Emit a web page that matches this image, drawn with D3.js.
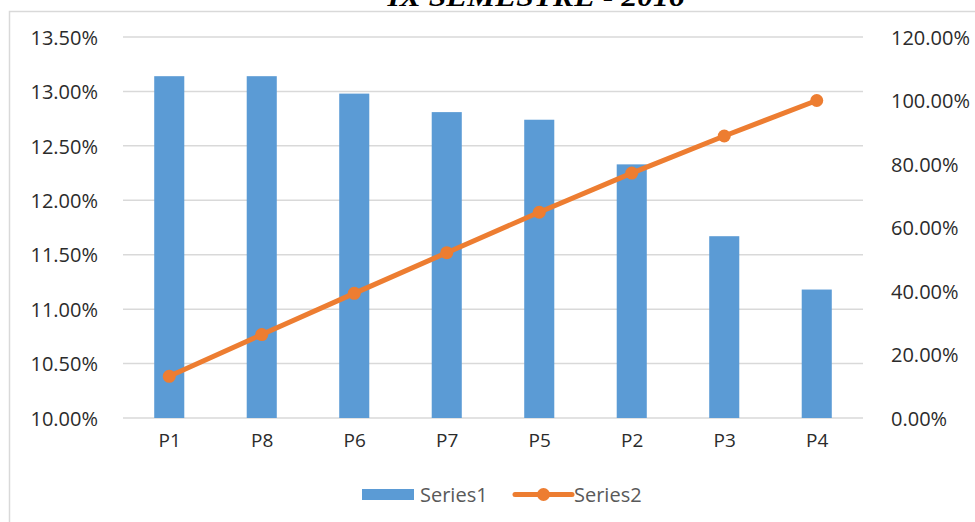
<!DOCTYPE html>
<html>
<head>
<meta charset="utf-8">
<script src="https://cdn.jsdelivr.net/npm/d3@7"></script>
<style>
  body { margin: 0; background: #fff; }
  svg { display: block; }
  .tick text { font-family: "Open Sans", sans-serif; fill: #2b2b2b; }
</style>
</head>
<body>
<div id="root"></div>
<script>
// data
var categories = ["P1", "P8", "P6", "P7", "P5", "P2", "P3", "P4"];
var series1 = [13.14, 13.14, 12.98, 12.81, 12.74, 12.33, 11.67, 11.18];   // left axis, %
var series2 = [13.14, 26.28, 39.26, 52.07, 64.81, 77.14, 88.81, 100.0];   // right axis, %
var leftTicks = [10, 10.5, 11, 11.5, 12, 12.5, 13, 13.5];
var rightTicks = [0, 20, 40, 60, 80, 100, 120];
var seriesNames = ["Series1", "Series2"];
var title = "IX SEMESTRE - 2016";

var W = 975, H = 522;
var plot = {left: 123, right: 863, top: 37, bottom: 418};

var svg = d3.select("#root")
            .append("svg")
            .attr("width", W)
            .attr("height", H);

// frame (only top and left edge visible)
svg.append("path")
  .attr("d", "M9.5," + H + "V11.5H" + W)
  .attr("fill", "none")
  .attr("stroke", "#d9d9d9")
  .attr("stroke-width", 1.5);

// title, its top is cut off like in the source image
svg.append("text")
  .attr("x", 536)
  .attr("y", 6)
  .attr("text-anchor", "middle")
  .attr("font-family", "Liberation Serif, serif")
  .attr("font-weight", "bold")
  .attr("font-style", "italic")
  .attr("font-size", 28)
  .attr("textLength", 297)
  .attr("lengthAdjust", "spacingAndGlyphs")
  .attr("fill", "#000")
  .text(title);

// scales
var x = d3.scaleBand()
  .domain(categories)
  .range([plot.left, plot.right])
  .paddingInner(0.675)
  .paddingOuter(0.3375);

var xc = d3.scalePoint()
  .domain(categories)
  .range([plot.left, plot.right])
  .padding(0.5);

var yL = d3.scaleLinear()
  .domain([10, 13.5])
  .range([plot.bottom, plot.top]);

var yR = d3.scaleLinear()
  .domain([0, 120])
  .range([plot.bottom, plot.top]);

// gridlines
svg.append("g")
  .selectAll("line")
  .data(leftTicks)
  .enter()
  .append("line")
    .attr("x1", plot.left)
    .attr("x2", plot.right)
    .attr("y1", function (d) { return yL(d); })
    .attr("y2", function (d) { return yL(d); })
    .attr("stroke", "#d9d9d9")
    .attr("stroke-width", 1.5);

// left axis
var axL = svg.append("g")
  .attr("transform", "translate(" + (plot.left - 22) + ",0)")
  .call(d3.axisLeft(yL).tickValues(leftTicks).tickSize(0).tickFormat(function (d) { return d.toFixed(2) + "%"; }));
axL.select(".domain").remove();
axL.selectAll("text").attr("font-size", 20).attr("dy", "0.36em");

// right axis
var axR = svg.append("g")
  .attr("transform", "translate(" + (plot.right + 25) + ",0)")
  .call(d3.axisRight(yR).tickValues(rightTicks).tickSize(0).tickFormat(function (d) { return d.toFixed(2) + "%"; }));
axR.select(".domain").remove();
axR.selectAll("text").attr("font-size", 20).attr("dy", "0.36em");

// bottom axis
var axB = svg.append("g")
  .attr("transform", "translate(0," + plot.bottom + ")")
  .call(d3.axisBottom(xc).tickSize(0).tickPadding(22));
axB.select(".domain").remove();
axB.selectAll("text").attr("font-size", 19).attr("dy", "0.36em");

// bars
svg.append("g")
  .selectAll("rect")
  .data(series1)
  .enter()
  .append("rect")
    .attr("x", function (d, i) { return x(categories[i]); })
    .attr("y", function (d) { return yL(d); })
    .attr("width", x.bandwidth())
    .attr("height", function (d) { return plot.bottom - yL(d); })
    .style("fill", "#5b9bd5");

// line
var line = d3.line()
  .x(function (d, i) { return xc(categories[i]); })
  .y(function (d) { return yR(d); });

svg.append("path")
  .datum(series2)
  .attr("d", line)
  .attr("fill", "none")
  .attr("stroke", "#ed7d31")
  .attr("stroke-width", 5)
  .attr("stroke-linejoin", "round");

svg.append("g")
  .selectAll("circle")
  .data(series2)
  .enter()
  .append("circle")
    .attr("cx", function (d, i) { return xc(categories[i]); })
    .attr("cy", function (d) { return yR(d); })
    .attr("r", 6.5)
    .style("fill", "#ed7d31");

// legend
var lg = svg.append("g").attr("font-family", "Open Sans, sans-serif").attr("font-size", 20).attr("fill", "#595959");
lg.append("rect")
  .attr("x", 362).attr("y", 489)
  .attr("width", 52).attr("height", 11)
  .style("fill", "#5b9bd5");
lg.append("text").attr("x", 420).attr("y", 495).attr("dy", "0.36em").text(seriesNames[0]);
lg.append("line")
  .attr("x1", 515).attr("x2", 572)
  .attr("y1", 494.5).attr("y2", 494.5)
  .attr("stroke", "#ed7d31").attr("stroke-width", 5).attr("stroke-linecap", "round");
lg.append("circle").attr("cx", 543.5).attr("cy", 494.5).attr("r", 6.5).style("fill", "#ed7d31");
lg.append("text").attr("x", 574).attr("y", 495).attr("dy", "0.36em").text(seriesNames[1]);
</script>
</body>
</html>
